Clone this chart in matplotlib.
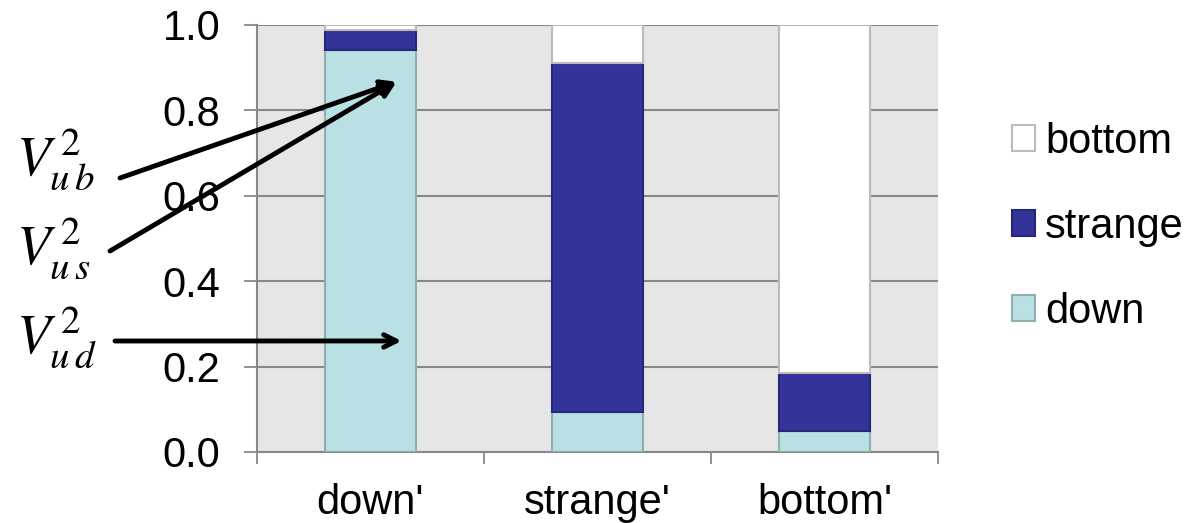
import matplotlib.pyplot as plt
import numpy as np

plt.rcParams['font.family'] = ['Liberation Sans', 'DejaVu Sans']
plt.rcParams['mathtext.fontset'] = 'stix'

categories = ["down'", "strange'", "bottom'"]
down = [0.942, 0.094, 0.048]
strange = [0.047, 0.817, 0.136]
bottom = [0.011, 0.089, 0.816]

c_down = '#b9e0e3'
c_strange = '#333399'
c_bottom = '#ffffff'

fig = plt.figure(figsize=(11.97, 5.23), dpi=100)
ax = fig.add_axes([0.2147, 0.1358, 0.5689, 0.8164])
ax.set_facecolor('#e6e6e6')

x = np.arange(len(categories))
w = 0.40
b1 = ax.bar(x, down, w, color=c_down, edgecolor='#8eaeb1', lw=1.5, label='down', zorder=3)
b2 = ax.bar(x, strange, w, bottom=down, color=c_strange, edgecolor='#27277a', lw=1.5,
            label='strange', zorder=3)
b3 = ax.bar(x, bottom, w, bottom=np.add(down, strange), color=c_bottom, edgecolor='#bbbbbb',
            lw=1.5, label='bottom', zorder=3)

ax.set_xlim(-0.5, 2.5)
ax.set_ylim(0, 1.0)
ax.set_yticks(np.arange(0, 1.01, 0.2))
ax.set_yticklabels(['%.1f' % v for v in np.arange(0, 1.01, 0.2)])
ax.yaxis.grid(True, color='#888888', lw=1.5, zorder=0)
ax.set_axisbelow(True)

ax.set_xticks([-0.5, 0.5, 1.5, 2.5])
ax.set_xticklabels([])
ax.set_xticks(x, minor=True)
ax.set_xticklabels(categories, minor=True)
ax.tick_params(axis='x', which='major', length=8.6, width=1.3, color='#888888')
ax.tick_params(axis='x', which='minor', length=0, pad=22, labelsize=30)
ax.tick_params(axis='y', length=9.5, width=1.3, color='#888888', labelsize=30, pad=17)

for s in ['top', 'right']:
    ax.spines[s].set_visible(False)
for s in ['left', 'bottom']:
    ax.spines[s].set_color('#888888')
    ax.spines[s].set_linewidth(1.5)

# legend, reversed order like the original
fig.legend([b3, b2, b1], ['bottom', 'strange', 'down'], loc='upper left',
           bbox_to_anchor=(0.814, 0.839), frameon=False, fontsize=30,
           handlelength=0.55, handleheight=0.55, handletextpad=0.25, labelspacing=1.08)

# CKM labels and arrows
H = 523
labels = [r'$V_{u\,b}^{\,2}$', r'$V_{u\,s}^{\,2}$', r'$V_{u\,d}^{\,2}$']
label_base = [175, 264, 353]
for lab, ly in zip(labels, label_base):
    fig.text(16, H - ly, lab, fontsize=40, va='baseline', ha='left',
             transform=None)

arrow = dict(arrowstyle='->,head_length=0.9,head_width=0.45', lw=3.5, color='black',
             shrinkA=0, shrinkB=0)
ax.annotate('', xy=(0.115, 0.867), xytext=(120, H - 178), textcoords='figure pixels',
            arrowprops=arrow, annotation_clip=False)
ax.annotate('', xy=(0.115, 0.867), xytext=(110, H - 251), textcoords='figure pixels',
            arrowprops=arrow, annotation_clip=False)
ax.annotate('', xy=(0.137, 0.26), xytext=(115, H - 341), textcoords='figure pixels',
            arrowprops=arrow, annotation_clip=False)

fig.savefig('out.png', dpi=100)
